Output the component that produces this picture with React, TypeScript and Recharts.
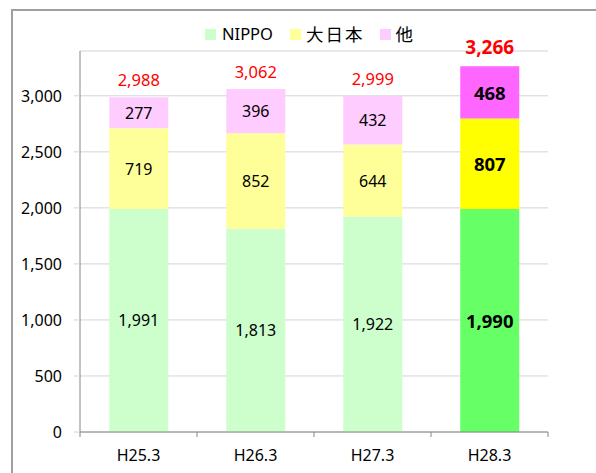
import { BarChart, Bar, XAxis, YAxis, CartesianGrid, Legend, LabelList, Cell } from 'recharts';

const categories = ['H25.3', 'H26.3', 'H27.3', 'H28.3'];
const nippoValues = [1991, 1813, 1922, 1990];
const dainipponValues = [719, 852, 644, 807];
const otherValues = [277, 396, 432, 468];
const totalValues = [2988, 3062, 2999, 3266];
const yTicks = [0, 500, 1000, 1500, 2000, 2500, 3000];

const seriesKeys = ['nippo', 'dai', 'other'];
const seriesNames = ['NIPPO', '大日本', '他'];
const lightColors = ['#CCFFCC', '#FFFF99', '#FFCCFF'];
const brightColors = ['#66FF66', '#FFFF00', '#FF66FF'];

const FONT = '"Noto Sans", "Noto Sans CJK JP", sans-serif';

const data = categories.map((name, i) => ({
  name,
  nippo: nippoValues[i],
  dai: dainipponValues[i],
  other: otherValues[i],
  total: totalValues[i],
}));

const lastIndex = categories.length - 1;
const fmt = (v: number) => Number(v).toLocaleString('en-US');

const InnerLabel = (props: any) => {
  const { x, y, width, height, value, index } = props;
  const last = index === lastIndex;
  return (
    <text
      x={x + width / 2}
      y={y + height / 2}
      textAnchor="middle"
      dominantBaseline="central"
      fontFamily={FONT}
      fontSize={last ? 18.5 : 16}
      fontWeight={last ? 700 : 400}
      fill="#000"
    >
      {fmt(value)}
    </text>
  );
};

const TotalLabel = (props: any) => {
  const { x, y, width, value, index } = props;
  const last = index === lastIndex;
  return (
    <text
      x={x + width / 2}
      y={y - (last ? 19 : 17.5)}
      textAnchor="middle"
      dominantBaseline="central"
      fontFamily={FONT}
      fontSize={last ? 19 : 16.5}
      fontWeight={last ? 700 : 400}
      fill="#FF0000"
    >
      {fmt(value)}
    </text>
  );
};

// category label plus Excel-style tick marks on the band boundaries
const XTick = (props: any) => {
  const { x, y, payload, index, width, visibleTicksCount } = props;
  const half = width / visibleTicksCount / 2;
  return (
    <g>
      <line x1={x - half} y1={y} x2={x - half} y2={y + 5} stroke="#868686" />
      {index === visibleTicksCount - 1 && (
        <line x1={x + half} y1={y} x2={x + half} y2={y + 5} stroke="#868686" />
      )}
      <text x={x} y={y + 23} textAnchor="middle" dominantBaseline="central" fontFamily={FONT} fontSize={16} fill="#000">
        {payload.value}
      </text>
    </g>
  );
};

const LegendContent = () => (
  <div style={{ display: 'flex', alignItems: 'center', fontFamily: FONT, color: '#000', lineHeight: '20px' }}>
    {seriesNames.map((n, i) => {
      const cjk = i > 0;
      return (
        <div key={n} style={{ display: 'flex', alignItems: 'center', marginRight: cjk ? 15 : 17 }}>
          <span style={{ display: 'inline-block', width: 11, height: 11, background: lightColors[i], marginRight: cjk ? 5 : 6 }} />
          <span style={{ fontSize: cjk ? 17.5 : 16.5, letterSpacing: cjk ? 2 : 0 }}>{n}</span>
        </div>
      );
    })}
  </div>
);

export default function App() {
  return (
    <div style={{ position: 'absolute', left: 0, top: 0, width: 596, height: 473, overflow: 'hidden', background: '#fff' }}>
      <div
        style={{
          position: 'absolute',
          left: 11,
          top: 9,
          width: 700,
          height: 600,
          borderLeft: '2px solid #a0a0a0',
          borderTop: '2px solid #a0a0a0',
        }}
      />
      <div style={{ position: 'absolute', left: 0, top: 0 }}>
        <BarChart
          width={596}
          height={473}
          data={data}
          margin={{ top: 51, right: 48, bottom: 0, left: 0 }}
          barCategoryGap="25%"
        >
          <CartesianGrid vertical={false} stroke="#d4d4d4" />
          <XAxis
            dataKey="name"
            height={41}
            axisLine={{ stroke: '#868686' }}
            tickLine={false}
            tickSize={0}
            tickMargin={0}
            interval={0}
            tick={<XTick />}
          />
          <YAxis
            width={80}
            domain={[0, 3400]}
            ticks={yTicks}
            interval={0}
            allowDataOverflow
            tickFormatter={fmt}
            axisLine={{ stroke: '#868686' }}
            tickLine={{ stroke: '#d4d4d4' }}
            tickSize={6}
            tickMargin={12}
            tick={{ fontFamily: FONT, fontSize: 16, fill: '#000' }}
          />
          <Legend
            verticalAlign="middle"
            align="center"
            layout="horizontal"
            content={<LegendContent />}
            wrapperStyle={{ top: 24, left: 205, width: 320, height: 20 }}
          />
          {seriesKeys.map((key, s) => (
            <Bar key={key} dataKey={key} name={seriesNames[s]} stackId="a" fill={lightColors[s]} isAnimationActive={false}>
              {data.map((d, i) => (
                <Cell key={d.name} fill={i === lastIndex ? brightColors[s] : lightColors[s]} />
              ))}
              <LabelList dataKey={key} content={<InnerLabel />} />
              {key === 'other' && <LabelList dataKey="total" content={<TotalLabel />} />}
            </Bar>
          ))}
        </BarChart>
      </div>
    </div>
  );
}
